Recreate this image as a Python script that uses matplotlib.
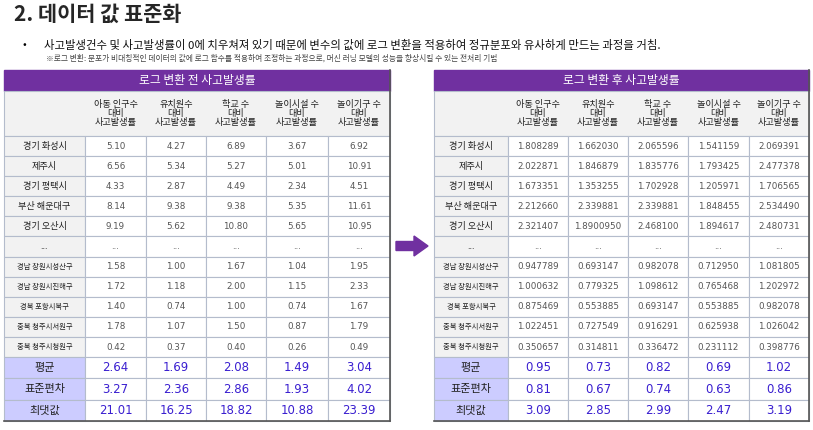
import matplotlib.pyplot as plt
from matplotlib.patches import Rectangle, FancyArrow

plt.rcParams["font.family"] = ["Noto Sans CJK KR", "Noto Sans CJK JP", "Noto Sans CJK SC",
                               "Noto Sans CJK TC", "DejaVu Sans"]

title = "2. 데이터 값 표준화"
bullet = "사고발생건수 및 사고발생률이 0에 치우쳐져 있기 때문에 변수의 값에 로그 변환을 적용하여 정규분포와 유사하게 만드는 과정을 거침."
note = "※로그 변환: 분포가 비대칭적인 데이터의 값에 로그 함수를 적용하여 조정하는 과정으로, 머신 러닝 모델의 성능을 향상시킬 수 있는 전처리 기법"

columns = ["아동 인구수\n대비\n사고발생률", "유치원수\n대비\n사고발생률", "학교 수\n대비\n사고발생률",
           "놀이시설 수\n대비\n사고발생률", "놀이기구 수\n대비\n사고발생률"]
regions = ["경기 화성시", "제주시", "경기 평택시", "부산 해운대구", "경기 오산시", "...",
           "경남 창원시성산구", "경남 창원시진해구", "경북 포항시북구", "충북 청주시서원구", "충북 청주시청원구"]
stat_names = ["평균", "표준편차", "최댓값"]

before = [
    ["5.10", "4.27", "6.89", "3.67", "6.92"],
    ["6.56", "5.34", "5.27", "5.01", "10.91"],
    ["4.33", "2.87", "4.49", "2.34", "4.51"],
    ["8.14", "9.38", "9.38", "5.35", "11.61"],
    ["9.19", "5.62", "10.80", "5.65", "10.95"],
    ["...", "...", "...", "...", "..."],
    ["1.58", "1.00", "1.67", "1.04", "1.95"],
    ["1.72", "1.18", "2.00", "1.15", "2.33"],
    ["1.40", "0.74", "1.00", "0.74", "1.67"],
    ["1.78", "1.07", "1.50", "0.87", "1.79"],
    ["0.42", "0.37", "0.40", "0.26", "0.49"],
]
before_stats = [
    ["2.64", "1.69", "2.08", "1.49", "3.04"],
    ["3.27", "2.36", "2.86", "1.93", "4.02"],
    ["21.01", "16.25", "18.82", "10.88", "23.39"],
]
after = [
    ["1.808289", "1.662030", "2.065596", "1.541159", "2.069391"],
    ["2.022871", "1.846879", "1.835776", "1.793425", "2.477378"],
    ["1.673351", "1.353255", "1.702928", "1.205971", "1.706565"],
    ["2.212660", "2.339881", "2.339881", "1.848455", "2.534490"],
    ["2.321407", "1.8900950", "2.468100", "1.894617", "2.480731"],
    ["...", "...", "...", "...", "..."],
    ["0.947789", "0.693147", "0.982078", "0.712950", "1.081805"],
    ["1.000632", "0.779325", "1.098612", "0.765468", "1.202972"],
    ["0.875469", "0.553885", "0.693147", "0.553885", "0.982078"],
    ["1.022451", "0.727549", "0.916291", "0.625938", "1.026042"],
    ["0.350657", "0.314811", "0.336472", "0.231112", "0.398776"],
]
after_stats = [
    ["0.95", "0.73", "0.82", "0.69", "1.02"],
    ["0.81", "0.67", "0.74", "0.63", "0.86"],
    ["3.09", "2.85", "2.99", "2.47", "3.19"],
]

PURPLE = "#7030a0"
GRID = "#b4bccc"
LABEL_BG = "#f2f2f2"
STAT_BG = "#ccccff"
STAT_FG = "#3a1fd0"

fig = plt.figure(figsize=(8.13, 4.3), dpi=100)
ax = fig.add_axes([0, 0, 1, 1])
ax.set_xlim(0, 813)
ax.set_ylim(430, 0)
ax.axis("off")

ax.text(14, 14, title, fontsize=15, fontweight="bold", color="#262626", va="center")
ax.text(22, 45, "•", fontsize=8, va="center")
ax.text(44, 45, bullet, fontsize=8.2, va="center", color="#111111")
ax.text(46, 58, note, fontsize=5.6, va="center", color="#444444")


def draw_table(x0, col_edges, heading, rows, stats):
    xs = [x0] + col_edges
    top, head_bot = 70, 91
    hdr_bot = 136
    row_h, stat_h = 20.1, 21.3
    # title bar
    ax.add_patch(Rectangle((xs[0], top), xs[-1] - xs[0], head_bot - top, color=PURPLE))
    ax.text((xs[0] + xs[-1]) / 2, (top + head_bot) / 2, heading, color="white",
            fontsize=8.5, ha="center", va="center")
    # header row
    ax.add_patch(Rectangle((xs[0], head_bot), xs[-1] - xs[0], hdr_bot - head_bot,
                           facecolor=LABEL_BG, edgecolor=GRID, lw=0.8))
    for i, c in enumerate(columns):
        ax.text((xs[i + 1] + xs[i + 2]) / 2, (head_bot + hdr_bot) / 2, c, fontsize=6.6,
                ha="center", va="center", linespacing=1.05, color="#222222")
    y = hdr_bot
    for name, vals in zip(regions, rows):
        small = len(name) > 7
        ax.add_patch(Rectangle((xs[0], y), xs[1] - xs[0], row_h, facecolor=LABEL_BG,
                               edgecolor=GRID, lw=0.8))
        ax.text((xs[0] + xs[1]) / 2, y + row_h / 2, name, fontsize=5.3 if small else 6.6,
                ha="center", va="center", color="#222222")
        for i, v in enumerate(vals):
            ax.add_patch(Rectangle((xs[i + 1], y), xs[i + 2] - xs[i + 1], row_h,
                                   facecolor="white", edgecolor=GRID, lw=0.8))
            ax.text((xs[i + 1] + xs[i + 2]) / 2, y + row_h / 2, v, fontsize=6.3,
                    ha="center", va="center", color="#555555", family="DejaVu Sans")
        y += row_h
    for name, vals in zip(stat_names, stats):
        ax.add_patch(Rectangle((xs[0], y), xs[1] - xs[0], stat_h, facecolor=STAT_BG,
                               edgecolor=GRID, lw=0.8))
        ax.text((xs[0] + xs[1]) / 2, y + stat_h / 2, name, fontsize=8, ha="center",
                va="center", color="#222222")
        for i, v in enumerate(vals):
            ax.add_patch(Rectangle((xs[i + 1], y), xs[i + 2] - xs[i + 1], stat_h,
                                   facecolor="white", edgecolor=GRID, lw=0.8))
            ax.text((xs[i + 1] + xs[i + 2]) / 2, y + stat_h / 2, v, fontsize=8.5,
                    ha="center", va="center", color=STAT_FG, family="DejaVu Sans")
        y += stat_h
    ax.plot([xs[0], xs[-1]], [y, y], color="#555555", lw=1.2)
    ax.plot([xs[-1], xs[-1]], [top, y], color="#555555", lw=1.2)


draw_table(4, [85, 146, 206, 266, 328, 390], "로그 변환 전 사고발생률", before, before_stats)
draw_table(434, [508, 568, 628, 688, 749, 809], "로그 변환 후 사고발생률", after, after_stats)

ax.add_patch(FancyArrow(396, 246, 18, 0, width=9, head_width=20, head_length=14,
                        length_includes_head=False, color=PURPLE))

fig.savefig("out.png", dpi=100)
